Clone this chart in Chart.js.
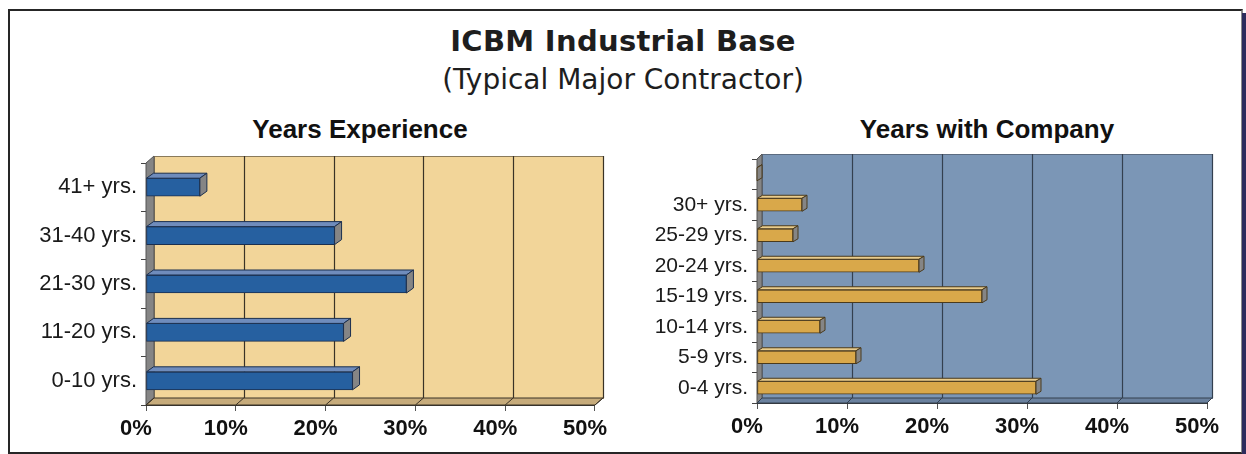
<!DOCTYPE html>
<html>
<head>
<meta charset="utf-8">
<script src="https://cdn.jsdelivr.net/npm/chart.js@4/dist/chart.umd.min.js"></script>
<style>
  body { margin: 0; width: 1246px; height: 454px; background: #fff; position: relative; overflow: hidden; font-family: 'Liberation Sans', Arial, sans-serif; }
  .frame { position: absolute; left: 8px; top: 9px; width: 1231px; height: 441px; border: 2px solid #262626; border-right-color: #8c8c8c; }
  .edge { position: absolute; left: 1242px; top: 13px; width: 4px; height: 441px; background: #2c2c5c; }
  .title { position: absolute; left: 0; width: 1246px; text-align: center; color: #1e1e1e; font-family: 'DejaVu Sans', Verdana, sans-serif; white-space: nowrap; }
  #t1 { top: 24px; font-size: 29px; font-weight: bold; letter-spacing: 0.3px; }
  #t2 { top: 63px; font-size: 28px; }
  .sub { position: absolute; width: 400px; text-align: center; color: #111; font-size: 26px; font-weight: bold; line-height: 30px; top: 114px; white-space: nowrap; }
  canvas { position: absolute; }
</style>
</head>
<body>
<div class="frame"></div>
<div class="edge"></div>
<div class="title" id="t1">ICBM Industrial Base</div>
<div class="title" id="t2">(Typical Major Contractor)</div>
<div class="sub" style="left:160px">Years Experience</div>
<div class="sub" style="left:787px">Years with Company</div>
<div style="position:absolute;left:0;top:100px;width:622px;height:354px"><canvas id="expChart"></canvas></div>
<div style="position:absolute;left:622px;top:100px;width:624px;height:354px"><canvas id="compChart"></canvas></div>
<script>
const expLabels = ['41+ yrs.', '31-40 yrs.', '21-30 yrs.', '11-20 yrs.', '0-10 yrs.'];
const expValues = [6, 21, 29, 22, 23];
const compLabels = ['', '30+ yrs.', '25-29 yrs.', '20-24 yrs.', '15-19 yrs.', '10-14 yrs.', '5-9 yrs.', '0-4 yrs.'];
const compValues = [null, 5, 4, 18, 25, 7, 11, 31];
const pctMax = 50;
const pctStep = 10;

// fake 3D walls + bar faces, drawn from the scales / bar elements
const box3d = {
  id: 'box3d',
  beforeDatasetsDraw(chart, args, o) {
    const { ctx, chartArea: a, scales: { x } } = chart;
    const dx = o.dx, dy = o.dy;
    ctx.save();
    // back wall
    ctx.fillStyle = o.wall;
    ctx.fillRect(a.left + dx, a.top - dy, a.right - a.left, a.bottom - a.top);
    ctx.strokeStyle = o.wallEdge; ctx.lineWidth = 1;
    ctx.strokeRect(a.left + dx + 0.5, a.top - dy + 0.5, a.right - a.left, a.bottom - a.top);
    // grid on back wall
    ctx.strokeStyle = o.grid; ctx.lineWidth = 1.2;
    x.ticks.forEach(t => {
      if (t.value === 0) return;
      const px = Math.round(x.getPixelForValue(t.value) + dx) + 0.5;
      ctx.beginPath(); ctx.moveTo(px, a.top - dy); ctx.lineTo(px, a.bottom - dy); ctx.stroke();
    });
    // left wall
    ctx.fillStyle = '#858585';
    ctx.beginPath();
    ctx.moveTo(a.left, a.top); ctx.lineTo(a.left + dx, a.top - dy);
    ctx.lineTo(a.left + dx, a.bottom - dy); ctx.lineTo(a.left, a.bottom); ctx.closePath(); ctx.fill();
    ctx.strokeStyle = '#555'; ctx.lineWidth = 1; ctx.stroke();
    // floor
    ctx.fillStyle = o.floor;
    ctx.beginPath();
    ctx.moveTo(a.left, a.bottom); ctx.lineTo(a.right, a.bottom);
    ctx.lineTo(a.right + dx, a.bottom - dy); ctx.lineTo(a.left + dx, a.bottom - dy); ctx.closePath(); ctx.fill();
    ctx.strokeStyle = o.grid; ctx.stroke();
    // slanted ticks on floor edge
    x.ticks.forEach(t => {
      const px = x.getPixelForValue(t.value);
      ctx.beginPath(); ctx.moveTo(px + dx, a.bottom - dy); ctx.lineTo(px, a.bottom); ctx.stroke();
    });
    ctx.restore();
  },
  afterDatasetsDraw(chart, args, o) {
    const { ctx } = chart;
    const bx = o.barDx, by = o.barDy;
    ctx.save();
    ctx.lineWidth = 1; ctx.strokeStyle = o.barEdge;
    chart.getDatasetMeta(0).data.forEach(bar => {
      if (bar.skip || isNaN(bar.x)) return;
      const h = bar.height, top = bar.y - h / 2, bot = bar.y + h / 2;
      ctx.fillStyle = o.barTop;
      ctx.beginPath();
      ctx.moveTo(bar.base, top); ctx.lineTo(bar.x, top);
      ctx.lineTo(bar.x + bx, top - by); ctx.lineTo(bar.base + bx, top - by); ctx.closePath();
      ctx.fill(); ctx.stroke();
      ctx.fillStyle = o.barSide;
      ctx.beginPath();
      ctx.moveTo(bar.x, top); ctx.lineTo(bar.x + bx, top - by);
      ctx.lineTo(bar.x + bx, bot - by); ctx.lineTo(bar.x, bot); ctx.closePath();
      ctx.fill(); ctx.stroke();
    });
    ctx.restore();
  }
};

function makeChart(id, labels, values, cfg) {
  return new Chart(document.getElementById(id), {
    type: 'bar',
    data: { labels, datasets: [{ data: values, backgroundColor: cfg.bar, borderColor: cfg.barEdge, borderWidth: 1, borderSkipped: false, barThickness: cfg.thick }] },
    plugins: [box3d],
    options: {
      indexAxis: 'y', responsive: true, maintainAspectRatio: false, animation: false,
      layout: { padding: { left: 0, right: cfg.padRight, top: cfg.padTop, bottom: 0 } },
      plugins: {
        legend: { display: false }, tooltip: { enabled: false }, title: { display: false },
        box3d: { dx: cfg.dx, dy: cfg.dy, barDx: cfg.bdx, barDy: cfg.bdy, wall: cfg.wall, wallEdge: cfg.wallEdge, floor: cfg.floor, grid: cfg.grid, barTop: cfg.barTop, barSide: '#858585', barEdge: cfg.barEdge }
      },
      scales: {
        x: {
          min: 0, max: pctMax,
          ticks: { stepSize: pctStep, labelOffset: -10, padding: 5, color: '#111', font: { family: 'Liberation Sans', size: 22, weight: 'bold' }, callback: v => v + '%' },
          grid: { drawOnChartArea: false, drawTicks: true, tickLength: 6, color: '#555' },
          border: { display: true, color: '#333' },
          afterFit: s => { s.height = cfg.xHeight; }
        },
        y: {
          ticks: { padding: 4, color: '#1a1a1a', font: { family: 'Liberation Sans', size: cfg.labelSize } },
          grid: { drawOnChartArea: false, drawTicks: true, tickLength: 5, color: '#444' },
          border: { display: true, color: '#333' },
          afterFit: s => { s.width = cfg.yWidth; }
        }
      }
    }
  });
}

makeChart('expChart', expLabels, expValues, {
  padTop: 63, padRight: 26, xHeight: 49, yWidth: 146, thick: 18, labelSize: 22,
  dx: 8, dy: 7, bdx: 7, bdy: 5,
  wall: '#f2d599', wallEdge: '#8a7a5a', floor: '#c6ab7b', grid: '#3a3226',
  bar: '#2660a0', barEdge: '#1b2f4f', barTop: '#6f8cbc'
});

makeChart('compChart', compLabels, compValues, {
  padTop: 59, padRight: 39, xHeight: 51, yWidth: 135, thick: 13, labelSize: 21,
  dx: 5, dy: 5, bdx: 5, bdy: 3,
  wall: '#7b96b6', wallEdge: '#5b6b80', floor: '#6a819e', grid: '#34404f',
  bar: '#d9a84a', barEdge: '#4a3a1c', barTop: '#e9cc8c'
});
</script>
</body>
</html>
